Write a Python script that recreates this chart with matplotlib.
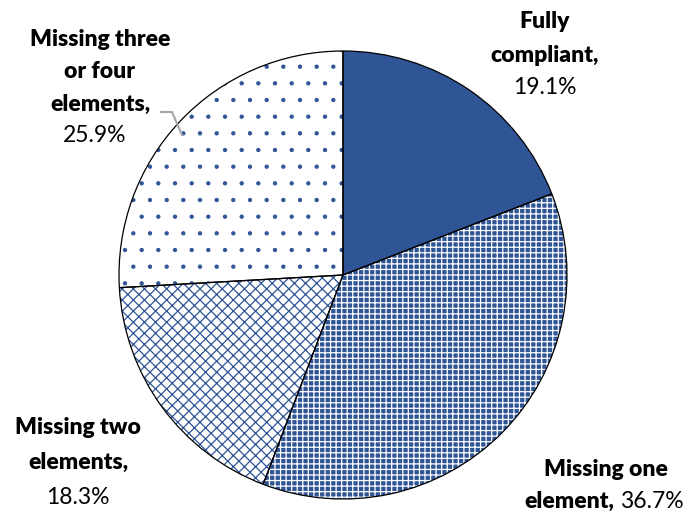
import matplotlib
matplotlib.use("Agg")
import matplotlib.pyplot as plt

categories = ["Fully compliant", "Missing one element", "Missing two elements", "Missing three or four elements"]
values = [19.1, 36.7, 18.3, 25.9]

plt.rcParams['font.family'] = ['Lato', 'DejaVu Sans']

W, H = 694, 519
fig = plt.figure(figsize=(W/100, H/100), dpi=100)
cx, cy, R = 343, 275, 224
ax = fig.add_axes([(cx-R)/W, (H-cy-R)/H, 2*R/W, 2*R/H])

blue = '#2F5597'
faces = [blue, blue, 'white', 'white']
hatches = [None, '+++', 'xxx', '.']
hcols = [blue, 'white', blue, blue]
hlws = [1.0, 0.9, 0.9, 0.7]

wedges, _ = ax.pie(values, startangle=90, counterclock=False, radius=1)
for w, f, h, hc, hl in zip(wedges, faces, hatches, hcols, hlws):
    w.set_facecolor(f)
    w.set_hatch(h)
    w.set_edgecolor(hc)
    w.set_linewidth(0)
    if hasattr(w, 'set_hatch_linewidth'):
        w.set_hatch_linewidth(hl)
w2, _ = ax.pie(values, startangle=90, counterclock=False, radius=1,
               wedgeprops=dict(facecolor='none', edgecolor='black', linewidth=0.9))
ax.set_xlim(-1, 1)
ax.set_ylim(-1, 1)
ax.set_aspect('auto')
ax.axis('off')

fs = 16.5
def px(x, y):
    return (x / W, 1 - y / H)

def txt(x, y, s, bold=True, ha='center'):
    fig.text(*px(x, y), s, ha=ha, va='center', fontsize=fs,
             fontweight='heavy' if bold else 'normal', color='black')

# Fully compliant
txt(545, 22, "Fully")
txt(545, 55, "compliant,")
txt(545, 88, f"{values[0]}%", bold=False)
# Missing one
txt(606, 469, "Missing one")
txt(614, 501, "element,", ha='right')
txt(620, 501, f"{values[1]}%", bold=False, ha='left')
# Missing two
txt(78, 428, "Missing two")
txt(78, 462, "elements,")
txt(78, 497, f"{values[2]}%", bold=False)
# Missing three or four
txt(100, 40, "Missing three")
txt(100, 72, "or four")
txt(100, 104, "elements,")
txt(95, 136, f"{values[3]}%", bold=False)

fig.add_artist(plt.Line2D([161/W, 172/W, 182/W], [1-112/H, 1-112/H, 1-135/H],
                          color='#A6A6A6', linewidth=1.5))

fig.savefig("out.png", dpi=100)
